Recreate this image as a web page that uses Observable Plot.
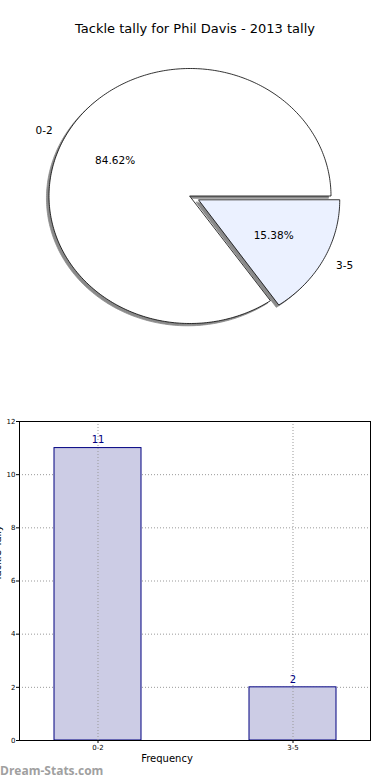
<!DOCTYPE html>
<html>
<head>
<meta charset="utf-8">
<script src="https://cdn.jsdelivr.net/npm/d3@7"></script>
<script src="https://cdn.jsdelivr.net/npm/@observablehq/plot@0.6"></script>
<style>
  html, body { margin: 0; padding: 0; background: #fff; }
  body { width: 390px; height: 780px; position: relative; overflow: hidden; font-family: "DejaVu Sans", sans-serif; }
  #title { position: absolute; top: 21px; left: 0; width: 390px; text-align: center; font-size: 13px; color: #000; }
  #pie { position: absolute; top: 0; left: 0; }
  #bar { position: absolute; top: 410px; left: 0; }
  #wm { position: absolute; left: 0; top: 762px; font-family: "Open Sans", "DejaVu Sans", sans-serif; font-weight: bold; font-size: 12px; color: #a0a0a0; }
</style>
</head>
<body>
<div id="pie"></div>
<div id="title">Tackle tally for Phil Davis - 2013 tally</div>
<div id="bar"></div>
<div id="wm">Dream-Stats.com</div>
<script>
const titleText = "Tackle tally for Phil Davis - 2013 tally";
const categories = ["0-2", "3-5"];
const counts = [11, 2];
const explode = [0, 0.07];
const sliceColors = ["#ffffff", "#ebf1ff"];
const yTicks = [0, 2, 4, 6, 8, 10, 12];
const xLabel = "Frequency";
const yLabel = "Tackle Tally";

// ---- Pie (matplotlib style: start at 0 rad, counter-clockwise) ----
const total = d3.sum(counts);
let cum = 0;
const slices = categories.map((c, i) => {
  const a0 = cum / total * 2 * Math.PI;
  cum += counts[i];
  const a1 = cum / total * 2 * Math.PI;
  const mid = (a0 + a1) / 2;
  const ox = explode[i] * Math.cos(mid), oy = explode[i] * Math.sin(mid);
  const pts = [{x: ox, y: oy}];
  const n = Math.max(2, Math.ceil((a1 - a0) / (Math.PI / 180)));
  for (let k = 0; k <= n; k++) {
    const a = a0 + (a1 - a0) * k / n;
    pts.push({x: ox + Math.cos(a), y: oy + Math.sin(a)});
  }
  return {cat: c, i, pts, mid, ox, oy,
    pct: (counts[i] / total * 100).toFixed(2) + "%",
    lx: ox + 1.1 * Math.cos(mid), ly: oy + 1.1 * Math.sin(mid),
    px: ox + 0.6 * Math.cos(mid), py: oy + 0.6 * Math.sin(mid)};
});

const pieMarks = [];
for (const s of slices) {
  pieMarks.push(Plot.line(s.pts.map(p => ({x: p.x - 0.018, y: p.y - 0.018})),
    {x: "x", y: "y", curve: "linear-closed", fill: "#8a8a8a", stroke: "#8a8a8a", strokeWidth: 0.8}));
}
for (const s of slices) {
  pieMarks.push(Plot.line(s.pts, {x: "x", y: "y", curve: "linear-closed",
    fill: sliceColors[s.i], stroke: "#000", strokeWidth: 0.8}));
}
pieMarks.push(Plot.text(slices.filter(s => Math.cos(s.mid) < 0), {x: "lx", y: "ly", text: "cat", textAnchor: "end", fontSize: 10.5}));
pieMarks.push(Plot.text(slices.filter(s => Math.cos(s.mid) >= 0), {x: "lx", y: "ly", text: "cat", textAnchor: "start", fontSize: 10.5}));
pieMarks.push(Plot.text(slices, {x: "px", y: "py", text: "pct", fontSize: 10.5}));

const pie = Plot.plot({
  width: 390, height: 400,
  margin: 0,
  style: {fontFamily: "DejaVu Sans, sans-serif", background: "transparent", color: "#000"},
  x: {type: "linear", domain: [-1, 1], range: [48.5, 330.5], axis: null},
  y: {type: "linear", domain: [-1, 1], range: [323, 68], axis: null},
  marks: pieMarks
});
document.getElementById("pie").appendChild(pie);

// ---- Bar chart ----
const barData = categories.map((c, i) => ({cat: c, v: counts[i]}));
const bar = Plot.plot({
  width: 390, height: 370,
  marginTop: 11, marginBottom: 40, marginLeft: 19, marginRight: 20,
  style: {fontFamily: "DejaVu Sans, sans-serif", background: "transparent", color: "#000", overflow: "hidden"},
  x: {type: "band", domain: categories, paddingInner: 0.554, paddingOuter: 0.177, label: null},
  y: {domain: [0, 12], label: null},
  marks: [
    Plot.gridY(yTicks, {stroke: "#999", strokeOpacity: 1, strokeDasharray: "1,2"}),
    Plot.barY(barData, {x: "cat", y: "v", fill: "#ccccE5", stroke: "#000080", strokeWidth: 1}),
    Plot.gridX(categories, {stroke: "#999", strokeOpacity: 1, strokeDasharray: "1,2"}),
    Plot.text(barData, {x: "cat", y: "v", text: d => String(d.v), dy: -8, fill: "#000080", fontSize: 10}),
    Plot.axisY(yTicks, {tickSize: 3, tickPadding: 1, fontSize: 7, label: null}),
    Plot.axisX(categories, {tickSize: 3, tickPadding: 2, fontSize: 7, label: null}),
    Plot.frame({stroke: "#000", strokeWidth: 1}),
    Plot.text([xLabel], {frameAnchor: "bottom", dx: -28, dy: 21, fontSize: 10}),
    Plot.text([yLabel], {frameAnchor: "left", dx: -22, rotate: -90, fontSize: 10})
  ]
});
document.getElementById("bar").appendChild(bar);
</script>
</body>
</html>
